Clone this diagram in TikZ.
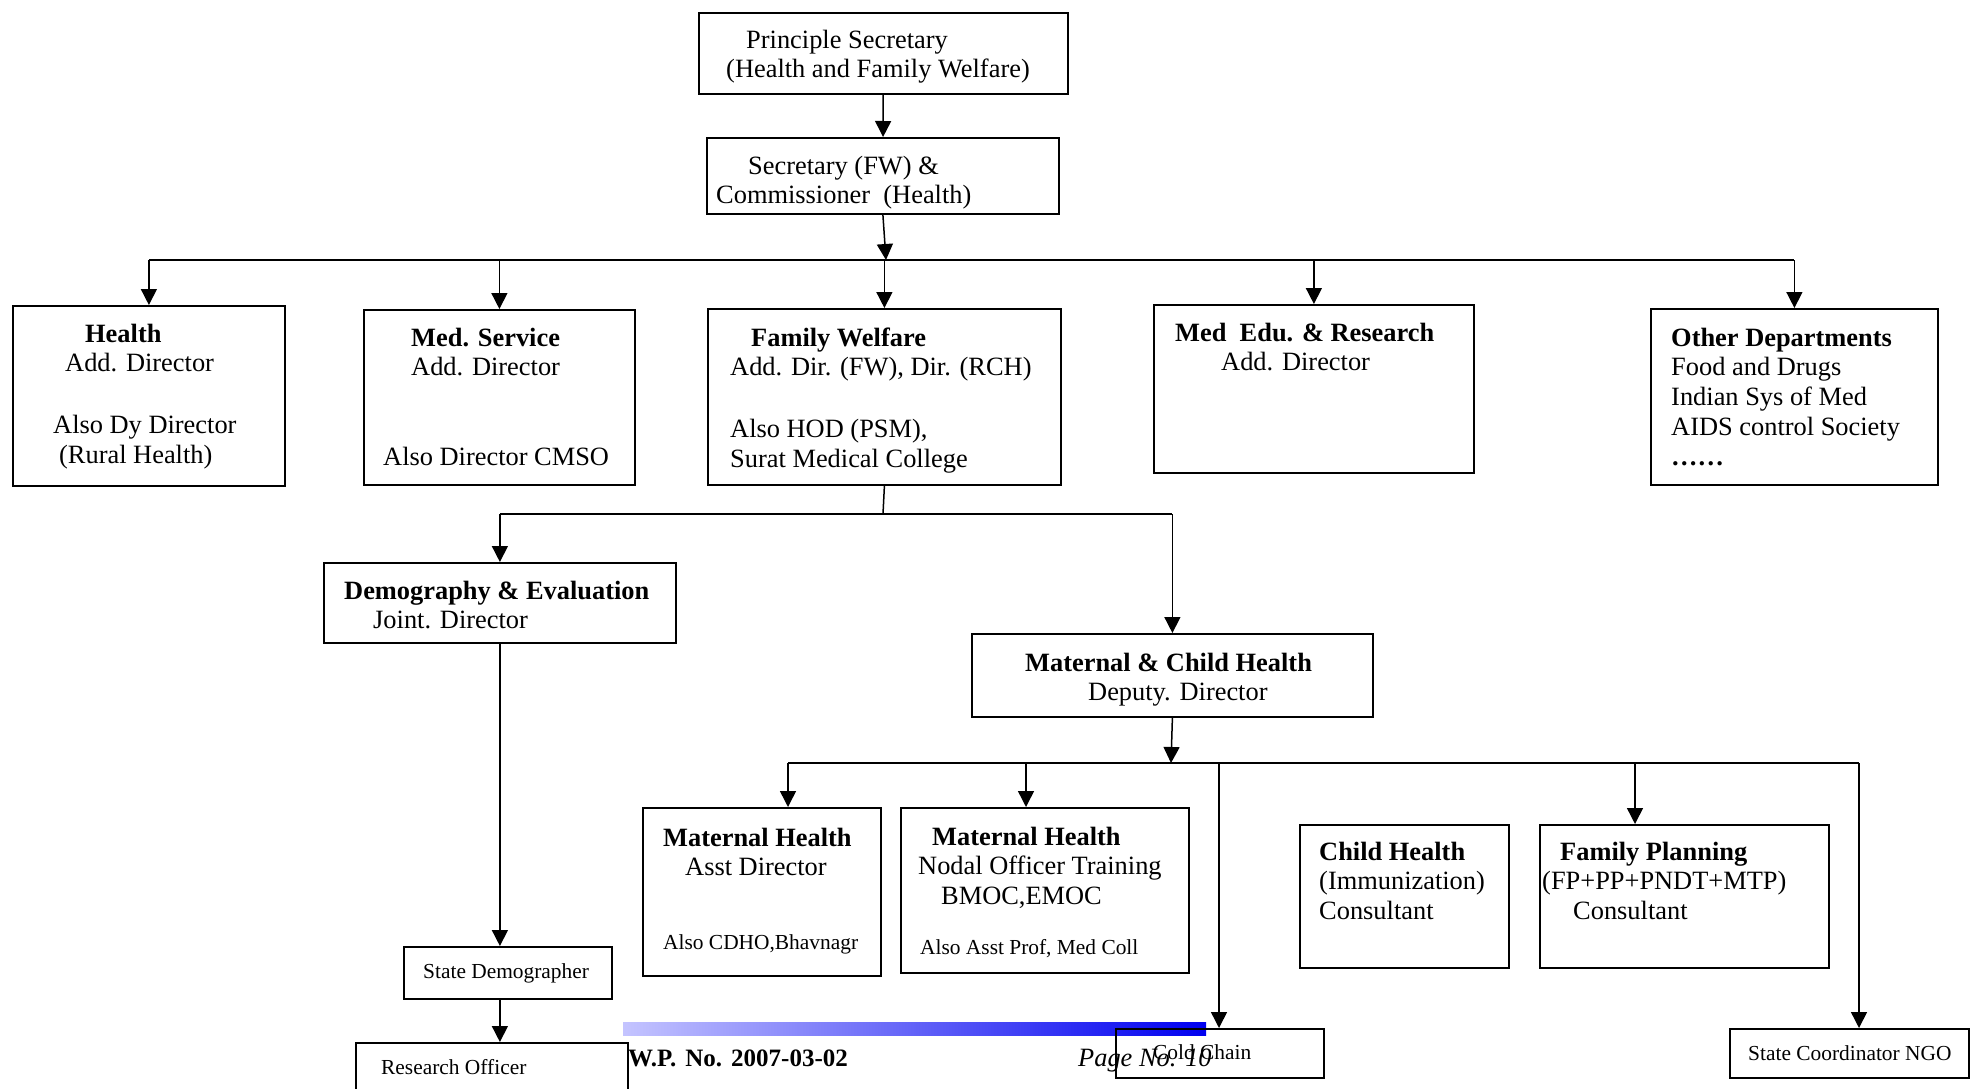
\documentclass[tikz,border=0pt]{standalone}
\usepackage{fontspec}
\setmainfont{Liberation Serif}
\usetikzlibrary{arrows.meta}

\newcommand\mainsz{\fontsize{26.4}{29.8}\selectfont}
\newcommand\smallsz{\fontsize{21.4}{24.6}\selectfont}

\begin{document}
\begin{tikzpicture}[x=1pt, y=-1pt,
	box/.style = {draw, line width=1.8pt, anchor=north west, inner sep=0},
	txt/.style = {anchor=north west, inner sep=0, align=left, font=\mainsz},
	note/.style = {anchor=north west, inner sep=0, font=\smallsz},
	arr/.style = {line width=1.5pt, -{Triangle[length=16pt, width=16pt]}},
	link/.style = {line width=1.5pt}]
			\useasboundingbox (0,0) rectangle (1970,1089);
			
			% footer bar and texts
			\shade[left color={rgb,255:red,196;green,196;blue,255}, right color={rgb,255:red,0;green,0;blue,240}] (623,1022) rectangle (1206,1035);
			\node[txt, font=\fontsize{25}{29}\selectfont\bfseries] (wpno) at (628,1046) {\strut W.P.\hspace{9pt}No.\hspace{9pt}2007-03-02};
			\node[txt, font=\mainsz\itshape] (pageno) at (1078,1045) {\strut Page No. 10};
			
			% boxes
			\node[box, minimum width=369, minimum height=81] (prin) at (698,12) {};
			\node[box, minimum width=352, minimum height=76] (sec) at (706,137) {};
			\node[box, minimum width=272, minimum height=180] (health) at (12,305) {};
			\node[box, minimum width=271, minimum height=175] (medsvc) at (363,309) {};
			\node[box, minimum width=353, minimum height=176] (fw) at (707,308) {};
			\node[box, minimum width=320, minimum height=168] (mededu) at (1153,304) {};
			\node[box, minimum width=287, minimum height=176] (other) at (1650,308) {};
			\node[box, minimum width=352, minimum height=80] (demog) at (323,562) {};
			\node[box, minimum width=401, minimum height=83] (mch) at (971,633) {};
			\node[box, minimum width=208, minimum height=52] (statedem) at (403,946) {};
			\node[box, minimum width=272, minimum height=60] (resoff) at (355,1042) {};
			\node[box, minimum width=238, minimum height=168] (mh1) at (642,807) {};
			\node[box, minimum width=288, minimum height=165] (mh2) at (900,807) {};
			\node[box, minimum width=209, minimum height=143] (child) at (1299,824) {};
			\node[box, minimum width=289, minimum height=143] (fp) at (1539,824) {};
			\node[box, minimum width=208, minimum height=49] (cold) at (1115,1028) {};
			\node[box, minimum width=239, minimum height=49] (ngo) at (1729,1028) {};
			
			% texts in the boxes
			\node[txt] (prinT) at (726,27) {\strut\hspace*{20pt}Principle Secretary\\ (Health and Family Welfare)};
			\node[txt] (secT) at (716,153) {\strut\hspace*{32pt}Secretary (FW) \&\\ Commissioner\ \ (Health)};
			\node[txt] (healthT) at (53,321) {\strut\hspace*{32pt}\textbf{Health}\\ \hspace*{12pt}Add. Director\\[32pt] Also Dy Director\\ \hspace*{6pt}(Rural Health)};
			\node[txt] (medsvcT) at (383,325) {\strut\hspace*{28pt}\textbf{Med. Service}\\ \hspace*{28pt}Add. Director\\[60pt] Also Director CMSO};
			\node[txt] (fwT) at (730,325) {\strut\hspace*{21pt}\textbf{Family Welfare}\\ Add. Dir. (FW), Dir. (RCH)\\[32pt] Also HOD (PSM),\\ Surat Medical College};
			\node[txt] (mededuT) at (1175,320) {\strut\textbf{Med\ \ Edu. \& Research}\\ \hspace*{46pt}Add. Director};
			\node[txt] (otherT) at (1671,325) {\strut\textbf{Other Departments}\\ Food and Drugs\\ Indian Sys of Med\\ AIDS control Society\\ \textbf{……}};
			\node[txt] (demogT) at (344,578) {\strut\textbf{Demography \& Evaluation}\\ \hspace*{29pt}Joint. Director};
			\node[txt] (mchT) at (1025,650) {\strut\textbf{Maternal \& Child Health}\\ \hspace*{63pt}Deputy. Director};
			\node[txt] (mh1T) at (663,825) {\strut\textbf{Maternal Health}\\ \hspace*{22pt}Asst Director};
			\node[note] (mh1N) at (663,932) {\strut Also CDHO,Bhavnagr};
			\node[txt] (mh2T) at (918,824) {\strut\hspace*{14pt}\textbf{Maternal Health}\\ Nodal Officer Training\\ \hspace*{23pt}BMOC,EMOC};
			\node[note] (mh2N) at (920,937) {\strut Also Asst Prof, Med Coll};
			\node[txt] (childT) at (1319,839) {\strut\textbf{Child Health}\\ (Immunization)\\ Consultant};
			\node[txt] (fpT) at (1542,839) {\strut\hspace*{18pt}\textbf{Family Planning}\\ (FP+PP+PNDT+MTP)\\ \hspace*{31pt}Consultant};
			\node[note] (statedemT) at (423,961) {\strut State Demographer};
			\node[note] (resoffT) at (381,1057) {\strut Research Officer};
			\node[note] (coldT) at (1153,1042) {\strut Cold Chain};
			\node[note] (ngoT) at (1748,1043) {\strut State Coordinator NGO};
			
			% top levels
			\coordinate (busA) at (886,260);
			\draw[arr] (prin) -- (sec);
			\draw[arr] (sec.south) -- (busA);
			\draw[link] (health.north |- busA) -- (other.north |- busA);
			\foreach \n in {health, medsvc, fw, mededu, other}
				\draw[arr] (\n.north |- busA) -- (\n.north);
			
			% family welfare branch
			\coordinate (busB) at (883,514);
			\draw[link] (fw.south) -- (busB);
			\draw[link] (demog.north |- busB) -- (mch.north |- busB);
			\draw[arr] (demog.north |- busB) -- (demog.north);
			\draw[arr] (mch.north |- busB) -- (mch.north);
			\draw[arr] (demog.south) -- (demog.south |- statedem.north);
			\draw[arr] (demog.south |- statedem.south) -- ([xshift=8pt]resoff.north);
			
			% maternal and child health branch
			\coordinate (busC) at (1171,763);
			\coordinate (busCw) at (788,763);
			\coordinate (busCe) at (1859,763);
			\draw[arr] (mch.south) -- (busC);
			\draw[link] (busCw) -- (busCe);
			\foreach \x/\n in {788/mh1, 1026/mh2, 1219/cold, 1635/fp, 1859/ngo}{
				\coordinate (drop) at (\x,763);
				\draw[arr] (drop) -- (drop |- \n.north);
			}
		\end{tikzpicture}
\end{document}
